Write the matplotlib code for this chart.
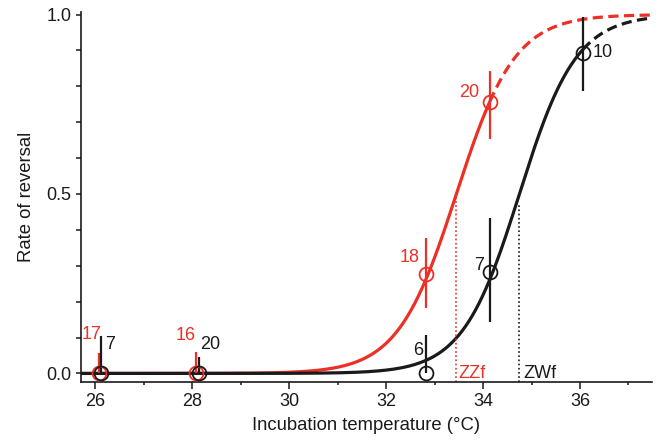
# Rate of sex reversal against incubation temperature for ZZ and ZW
# embryos, with fitted logistic curves and the pivotal temperatures.
import numpy as np
from matplotlib import pyplot as plt
from matplotlib.ticker import MultipleLocator

plt.rcParams['font.family'] = ['Liberation Sans', 'DejaVu Sans']

red = '#ec3026'
black = '#1a1a1a'

# ZZ females (red).
zz_temp = [26.07, 28.09, 32.83, 34.14]
zz_rate = [0.0, 0.0, 0.277, 0.756]
zz_low = [0.0, 0.0, 0.183, 0.654]
zz_high = [0.058, 0.059, 0.377, 0.842]
zz_n = ['17', '16', '18', '20']

# ZW females (black).
zw_temp = [26.12, 28.15, 32.83, 34.14, 36.06]
zw_rate = [0.0, 0.0, 0.0, 0.283, 0.892]
zw_low = [0.0, 0.0, 0.0, 0.144, 0.787]
zw_high = [0.103, 0.047, 0.108, 0.432, 0.994]
zw_n = ['7', '20', '6', '7', '10']

# Fitted logistic curves: pivotal temperature and slope.
zz_pivot, zz_slope = 33.45, 1.65
zw_pivot, zw_slope = 34.75, 1.7
# Where the fits stop being backed by data (dashed beyond).
zz_last, zw_last = 34.14, 36.06
zz_pivot_top, zw_pivot_top = 0.49, 0.475

# Label positions for the sample sizes (x, y, alignment).
zz_label_pos = [(26.14, 0.108, 'right'), (28.07, 0.105, 'right'),
	(32.69, 0.324, 'right'), (33.93, 0.782, 'right')]
zw_label_pos = [(26.21, 0.08, 'left'), (28.17, 0.08, 'left'),
	(32.77, 0.064, 'right'), (34.01, 0.30, 'right'), (36.27, 0.893, 'left')]

xmin, xmax = 25.71, 37.48
ymin, ymax = -0.023, 1.008


def logistic(t, pivot, slope):
	return 1.0 / (1.0 + np.exp(-slope * (t - pivot)))


fig = plt.figure(figsize=(6.59, 4.41), dpi=100)
ax = fig.add_axes([0.123, 0.1345, 0.866, 0.839])

for pivot, slope, last, color in [(zz_pivot, zz_slope, zz_last, red),
		(zw_pivot, zw_slope, zw_last, black)]:
	ts = np.linspace(xmin, last, 300)
	ax.plot(ts, logistic(ts, pivot, slope), color=color, lw=2.3,
		solid_capstyle='butt', zorder=2)
	ts = np.linspace(last, xmax, 200)
	ax.plot(ts, logistic(ts, pivot, slope), color=color, lw=2.3,
		dashes=(3.2, 1.7), zorder=2)

# Pivotal temperatures.
ax.vlines(zz_pivot, ymin, zz_pivot_top, color=red, lw=1.2, linestyles=(0, (1, 1.5)))
ax.vlines(zw_pivot, ymin, zw_pivot_top, color=black, lw=1.2, linestyles=(0, (1, 1.5)))
ax.text(zz_pivot + 0.05, 0.0, 'ZZf', color=red, fontsize=13, ha='left', va='center')
ax.text(zw_pivot + 0.09, 0.0, 'ZWf', color=black, fontsize=13, ha='left', va='center')

for temp, rate, low, high, n, pos, color in [
		(zz_temp, zz_rate, zz_low, zz_high, zz_n, zz_label_pos, red),
		(zw_temp, zw_rate, zw_low, zw_high, zw_n, zw_label_pos, black)]:
	ax.vlines(temp, low, high, color=color, lw=1.6, zorder=3)
	ax.plot(temp, rate, 'o', ms=10, mfc='none', mec=color, mew=1.3, zorder=4)
	for label, (x, y, ha) in zip(n, pos):
		ax.text(x, y, label, color=color, fontsize=13, ha=ha, va='center')

ax.set_xlim(xmin, xmax)
ax.set_ylim(ymin, ymax)
ax.set_xticks([26, 28, 30, 32, 34, 36])
ax.xaxis.set_minor_locator(MultipleLocator(1))
ax.set_yticks([0.0, 0.5, 1.0])
ax.set_yticklabels(['0.0', '0.5', '1.0'])
ax.yaxis.set_minor_locator(MultipleLocator(0.1))
ax.spines['top'].set_visible(False)
ax.spines['right'].set_visible(False)
for side in ['left', 'bottom']:
	ax.spines[side].set_linewidth(1.2)
	ax.spines[side].set_color(black)
ax.tick_params(which='both', width=1.1, labelsize=13, colors=black)
ax.tick_params(axis='x', which='major', length=5)
ax.tick_params(axis='x', which='minor', length=2.5)
ax.tick_params(axis='y', which='both', length=3.5)
ax.set_xlabel('Incubation temperature (°C)', fontsize=13.3, color=black, labelpad=5)
ax.set_ylabel('Rate of reversal', fontsize=13.3, color=black, labelpad=8)

fig.savefig('out.png', dpi=100)
